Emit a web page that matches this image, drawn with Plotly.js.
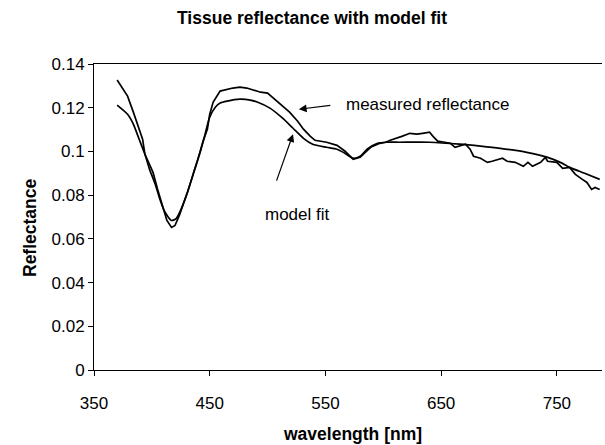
<!DOCTYPE html>
<html>
<head>
<meta charset="utf-8">
<script src="https://cdn.plot.ly/plotly-3.0.1.min.js"></script>
<style>html,body{margin:0;padding:0;background:#fff}#chart{width:605px;height:445px}</style>
</head>
<body>
<div id="chart"></div>
<script>
// Measured reflectance
var measuredWavelength = [370,379,384,388,392,394,401,405,410,413,417,420,424,431,439,444,448,450,453,459,470,476,482,487,494,500,504,511,519,526,531,537,541,551,560,567,574,580,589,597,602,606,612,616,623,629,634,640,643,647,653,658,662,665,671,675,678,684,690,694,703,707,714,721,725,729,736,740,742,750,755,761,766,772,776,780,783,787];
var measuredReflectance = [0.1327,0.1253,0.1180,0.1115,0.1056,0.0987,0.0904,0.0826,0.0734,0.0684,0.0652,0.0661,0.0711,0.0817,0.0950,0.1042,0.1102,0.1170,0.1226,0.1276,0.1290,0.1294,0.1290,0.1281,0.1271,0.1267,0.1248,0.1216,0.1180,0.1138,0.1102,0.1069,0.1051,0.1042,0.1028,0.1001,0.0964,0.0973,0.1019,0.1037,0.1042,0.1051,0.1060,0.1069,0.1083,0.1079,0.1083,0.1088,0.1069,0.1047,0.1042,0.1037,0.1019,0.1024,0.1033,0.1010,0.0978,0.0969,0.0950,0.0955,0.0969,0.0955,0.0950,0.0932,0.0950,0.0932,0.0950,0.0973,0.0955,0.0950,0.0923,0.0927,0.0895,0.0872,0.0858,0.0826,0.0835,0.0826];
// Model fit
var modelWavelength = [370,379,384,389,394,398,403,407,411,417,421,424,431,437,442,446,450,455,459,465,476,485,491,502,513,522,531,539,551,560,567,574,580,586,595,603,614,640,666,684,701,724,742,753,761,774,787];
var modelReflectance = [0.1212,0.1170,0.1125,0.1056,0.0987,0.0918,0.0849,0.0780,0.0725,0.0684,0.0693,0.0721,0.0817,0.0918,0.1001,0.1079,0.1157,0.1203,0.1221,0.1230,0.1239,0.1235,0.1226,0.1198,0.1152,0.1106,0.1060,0.1033,0.1019,0.1010,0.0991,0.0969,0.0978,0.1010,0.1037,0.1042,0.1042,0.1042,0.1033,0.1024,0.1014,0.0996,0.0973,0.0950,0.0927,0.0900,0.0872];
var xTicks = [350,450,550,650,750];
var yTicks = [0,0.02,0.04,0.06,0.08,0.1,0.12,0.14];
var yTickText = ['0','0.02','0.04','0.06','0.08','0.1','0.12','0.14'];

var F = 'Liberation Sans, Arial, sans-serif';
var L = 94, R = 602, T = 64, B = 370;
var W = R - L, H = B - T;
function px(x){ return (x - L) / W; }
function py(y){ return (B - y) / H; }
var traces = [
  {x: measuredWavelength, y: measuredReflectance, mode: 'lines', line: {color: '#000', width: 1.7}, hoverinfo: 'skip'},
  {x: modelWavelength, y: modelReflectance, mode: 'lines', line: {color: '#000', width: 1.7, shape: 'spline', smoothing: 0.6}, hoverinfo: 'skip'}
];
var layout = {
  width: 605, height: 445,
  margin: {l: L, r: 605 - R, t: T, b: 445 - B},
  paper_bgcolor: '#fff', plot_bgcolor: '#fff',
  showlegend: false,
  font: {family: F, color: '#000', size: 17},
  xaxis: {range: [350, 789], tickvals: xTicks, ticktext: xTicks.map(String), ticks: 'outside', ticklen: 5, tickcolor: '#000',
          showline: true, linecolor: '#000', linewidth: 1, mirror: true, showgrid: false, zeroline: false,
          ticklabelstandoff: 13, tickfont: {family: F, size: 17, color: '#000'}},
  yaxis: {range: [0, 0.14], tickvals: yTicks, ticktext: yTickText, ticks: 'outside', ticklen: 5, tickcolor: '#000',
          showline: true, linecolor: '#000', linewidth: 1, showgrid: false, zeroline: false,
          tickfont: {family: F, size: 17, color: '#000'}},
  annotations: [
    {text: '<b>Tissue reflectance with model fit</b>', xref: 'paper', yref: 'paper', x: px(312), y: py(18), xanchor: 'center', yanchor: 'middle', showarrow: false, font: {family: F, size: 17.5, color: '#000'}},
    {text: '<b>wavelength [nm]</b>', xref: 'paper', yref: 'paper', x: px(352), y: py(434), xanchor: 'center', yanchor: 'middle', showarrow: false, font: {family: F, size: 17.5, color: '#000'}},
    {text: '<b>Reflectance</b>', xref: 'paper', yref: 'paper', x: px(30), y: py(228), xanchor: 'center', yanchor: 'middle', textangle: -90, showarrow: false, font: {family: F, size: 17.5, color: '#000'}},
    {text: 'measured reflectance', xref: 'x', yref: 'y', x: 566, y: 0.1216, xanchor: 'left', yanchor: 'middle', showarrow: false, font: {family: F, size: 17, color: '#000'}},
    {text: 'model fit', xref: 'x', yref: 'y', x: 496, y: 0.0712, xanchor: 'left', yanchor: 'middle', showarrow: false, font: {family: F, size: 17, color: '#000'}},
    {text: '', xref: 'x', yref: 'y', x: 527, y: 0.1193, ax: 33, ay: -4, showarrow: true, arrowhead: 2, arrowsize: 1.3, arrowwidth: 1.2, arrowcolor: '#000', standoff: 0},
    {text: '', xref: 'x', yref: 'y', x: 522, y: 0.1079, ax: -17, ay: 48, showarrow: true, arrowhead: 2, arrowsize: 1.3, arrowwidth: 1.2, arrowcolor: '#000', standoff: 0}
  ]
};
Plotly.newPlot('chart', traces, layout, {staticPlot: true, displayModeBar: false});
</script>
</body>
</html>
